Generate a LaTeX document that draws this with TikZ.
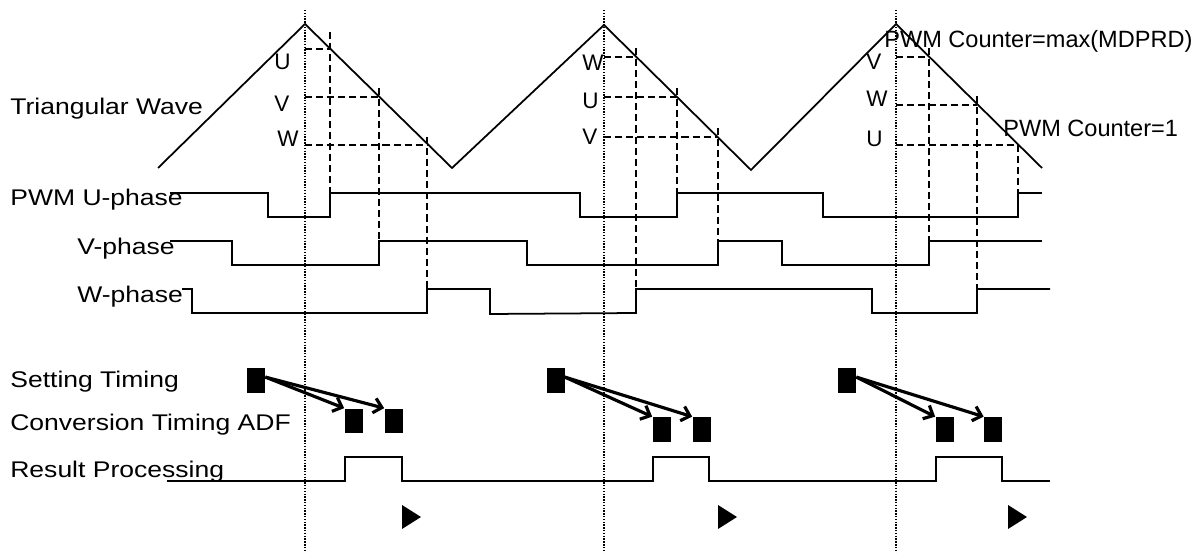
\documentclass[tikz,border=0pt]{standalone}
\usepackage{fontspec}
\setmainfont{Liberation Sans}
\newfontfamily\widefont{Liberation Sans}[FakeStretch=1.17]
\usetikzlibrary{arrows.meta,calc}

\tikzset{
  sig/.style={line width=1pt},
  dashln/.style={line width=1.5pt,dash pattern=on 4pt off 2.3pt},
  dotln/.style={line width=1pt,dash pattern=on 0.8pt off 0.8pt},
  blk/.style={fill=black,inner sep=0,minimum width=0.36cm,minimum height=0.5cm},
  arr/.style={line width=1.8pt,-{Straight Barb[length=4.5pt,width=8.5pt]}},
  lbl/.style={inner sep=0,anchor=base west,font=\widefont\fontsize{12.9}{14}\selectfont},
  phs/.style={inner sep=0,anchor=base west,font=\fontsize{12.8}{14}\selectfont},
  cnt/.style={inner sep=0,anchor=base west,font=\fontsize{13.4}{15}\selectfont}
}

\begin{document}
\begin{tikzpicture}[x=0.02cm,y=-0.02cm]
\useasboundingbox (0,0) rectangle (1203,553);

% peak markers
\foreach \x in {305,604,896}
  \draw[dotln] (\x,10) -- (\x,553);

% carrier
\draw[sig] (158,168) -- (305,24) -- (452,168) -- (604,25) -- (751,170) -- (896,24) -- (1042,168);

% compare levels: peak x / level / cut x / top / bottom
\foreach \xp/\yl/\xc/\yt/\yb in {305/49/330/32/193, 305/97/379/88/241, 305/145/427/137/289,
    604/57/636/48/289, 604/97/677/88/193, 604/137/718/128/241,
    896/57/929/48/241, 896/105/977/96/289, 896/145/1018/145/193}
  \draw[dashln] (\xp,\yl) -- (\xc,\yl) (\xc,\yt) -- (\xc,\yb);

\foreach \nm/\x/\y/\t in {lu1/274/70/U, lv1/274/112/V, lw1/277/147/W,
    lw2/582/71/W, lu2/582/109/U, lv2/582/145/V,
    lv3/866/70/V, lw3/866/107/W, lu3/866/147/U}
  \node[phs] (\nm) at (\x,\y) {\t};

% phase outputs
\draw[sig] (170,193) -| (268,217) -| (330,193) -| (580,217) -| (677,193) -| (823,217) -| (1018,193) -- (1042,193);
\draw[sig] (170,241) -| (232,265) -| (379,241) -| (527,265) -| (718,241) -| (782,265) -| (929,241) -- (1042,241);
\draw[sig] (182,289) -| (192,313) -| (427,289) -| (490,314) -- (636,313) -- (636,289) -| (872,313) -| (977,289) -- (1050,289);

% A/D timing
\foreach \n/\xs/\xa/\xb/\y in {1/256/353.5/393.5/421, 2/555.5/661.5/701.5/429.5, 3/847/944.5/993/429.5}{
  \node[blk] (s\n) at (\xs,380.5) {};
  \node[blk] (ca\n) at (\xa,\y) {};
  \node[blk] (cb\n) at (\xb,\y) {};
  \draw[arr] (s\n.20) -- (ca\n.north west);
  \draw[arr] (s\n.20) -- (cb\n.north west);
}
\draw[sig] (167,481) -| (345,457) -| (402,481) -| (653,457) -| (709,481) -| (936,457) -| (1002,481) -- (1050,481);
\foreach \x in {402,718,1008}
  \fill (\x,505) -- ++(19,12) -- ++(-19,12) -- cycle;

\node[lbl] (tri) at (10,115) {Triangular Wave};
\node[lbl] (pu) at (10,206) {PWM U-phase};
\node[lbl] (pv) at (77,255) {V-phase};
\node[lbl] (pw) at (77,303) {W-phase};
\node[lbl] (set) at (10,388) {Setting Timing};
\node[lbl] (conv) at (10,431) {Conversion Timing ADF};
\node[lbl] (res) at (10,478) {Result Processing};
\node[cnt] (cmax) at (884,48) {PWM Counter=max(MDPRD)};
\node[cnt] (cone) at (1003,137) {PWM Counter=1};
\end{tikzpicture}
\end{document}
